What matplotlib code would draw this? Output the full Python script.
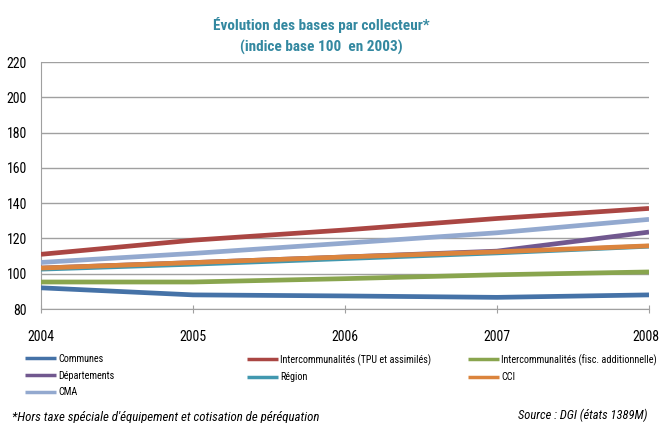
import matplotlib
matplotlib.use("Agg")
import matplotlib.pyplot as plt
import matplotlib.transforms as mtransforms

plt.rcParams['font.family'] = ['Roboto Condensed', 'PT Sans Narrow', 'Liberation Sans', 'DejaVu Sans']

years = [2004, 2005, 2006, 2007, 2008]
series_names = ["Communes", "Intercommunalités (TPU et assimilés)",
                "Intercommunalités (fisc. additionnelle)", "Départements",
                "Région", "CCI", "CMA"]
communes = [92, 88, 87.4, 86.6, 88]
interco_tpu = [111, 119, 124.8, 131.3, 137]
interco_fa = [95.3, 95.3, 97.2, 99.4, 101]
departements = [103.2, 106.3, 109.5, 112.8, 123.6]
region = [102.6, 105.4, 108.6, 111.8, 115.6]
cci = [103.2, 106.3, 109.5, 112.4, 115.8]
cma = [106.4, 111.5, 117.3, 123.2, 130.8]
yticks = [80, 100, 120, 140, 160, 180, 200, 220]

colors = ["#4572A7", "#AA4643", "#89A54E", "#71588F", "#4198AF", "#DB843D", "#93A9CF"]
data = [communes, interco_tpu, interco_fa, departements, region, cci, cma]

fig = plt.figure(figsize=(6.59, 4.23), dpi=100)
ax = fig.add_axes([41/659, 1-309/423, 608/659, 247/423])

order = [0, 1, 2, 6, 3, 4, 5]
lines = {}
for i in order:
    l, = ax.plot(years, data[i], color=colors[i], lw=3.4, solid_capstyle='butt', zorder=3)
    lines[i] = l

ax.set_xlim(2004, 2008)
ax.set_ylim(80, 220)
ax.set_yticks(yticks)
ax.set_xticks(years)
ax.grid(axis='y', color='#A0A0A0', lw=1.0)
ax.set_axisbelow(True)
for s in ['top', 'right']:
    ax.spines[s].set_visible(False)
for s in ['left', 'bottom']:
    ax.spines[s].set_color('#A0A0A0')
ax.tick_params(axis='y', length=0, labelsize=10, pad=10)
ax.tick_params(axis='x', length=6, color='#A0A0A0', labelsize=10, pad=12, direction='inout')
xl = ax.get_xticklabels()
xl[-1].set_transform(xl[-1].get_transform() +
                     mtransforms.ScaledTranslation(-3/100, 0, fig.dpi_scale_trans))

fig.text(321.5/659, 1-25/423, "Évolution des bases par collecteur*", ha='center', va='center',
         color='#3388A0', fontsize=11, fontweight='bold')
fig.text(321.5/659, 1-47.5/423, "(indice base 100  en 2003)", ha='center', va='center',
         color='#3388A0', fontsize=11, fontweight='bold')

cols = [[0, 3, 6], [1, 4], [2, 5]]
col_x = [25/659, 247/659, 468/659]
for cx, idxs in zip(col_x, cols):
    leg = fig.legend([lines[i] for i in idxs], [series_names[i] for i in idxs],
                     loc='upper left', bbox_to_anchor=(cx, 1-354/423),
                     frameon=False, fontsize=7.3, handlelength=3.05, handletextpad=0.2,
                     labelspacing=0.65, borderaxespad=0, borderpad=0)
    for l in leg.get_lines():
        l.set_linewidth(2.5)

fig.text(12/659, 1-417/423, "*Hors taxe spéciale d'équipement et cotisation de péréquation",
         ha='left', va='center', fontsize=9.3, style='italic')
fig.text(647/659, 1-415/423, "Source : DGI (états 1389M)", ha='right', va='center',
         fontsize=9, style='italic')

fig.savefig("out.png", dpi=100)
